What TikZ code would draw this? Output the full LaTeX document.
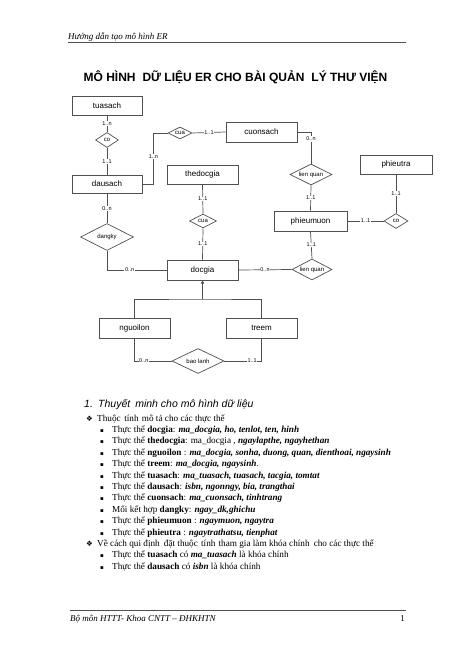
\documentclass[tikz,border=0pt]{standalone}
\usepackage{fontspec}
\setmainfont{Liberation Serif}
\newfontfamily\arial{Liberation Sans}
\newfontfamily\dejavu{DejaVu Sans}
\usetikzlibrary{shapes.geometric,arrows.meta}
\definecolor{linec}{HTML}{505050}
\newcommand{\bi}[1]{\textbf{\textit{#1}}}
\begin{document}
\begin{tikzpicture}[x=1pt,y=-1pt,
 ent/.style={draw=linec, line width=0.7pt, minimum width=71pt, minimum height=20pt, inner sep=0pt, font=\arial\fontsize{8}{9}\selectfont},
 rel/.style={diamond, aspect=2, draw=linec, line width=0.7pt, inner sep=0pt, font=\arial\fontsize{6}{7}\selectfont},
 lab/.style={fill=white, inner sep=0.6pt, font=\arial\fontsize{5.5}{6}\selectfont},
 conn/.style={draw=linec, line width=0.7pt},
 txt/.style={anchor=base west, inner sep=0pt, font=\fontsize{9.2}{10}\selectfont},
 sq/.style={anchor=base west, inner sep=0pt, font=\dejavu\fontsize{5.5}{6}\selectfont},
 dm/.style={anchor=base west, inner sep=0pt, font=\dejavu\fontsize{7.5}{8}\selectfont},
]
\useasboundingbox (0,0) rectangle (474,652);
\fill[white] (0,0) rectangle (474,652);

% header
\node[anchor=base west, inner sep=0pt, font=\itshape\fontsize{9}{10}\selectfont] (hdr) at (68,40) {Hướng dẫn tạo mô hình ER};
\coordinate (hl1) at (68,42.5);
\coordinate (hl2) at (406,42.5);
\draw[linec, line width=1pt] (hl1) -- (hl2);

% title
\node[inner sep=0pt, font=\arial\bfseries\fontsize{12}{13}\selectfont] (title) at (235.5,77) {MÔ HÌNH\hspace{0.3em} DỮ LIỆU ER CHO BÀI QUẢN\hspace{0.3em} LÝ THƯ VIỆN};

% entities
\node[ent, minimum width=70pt, minimum height=19pt] (tuasach) at (107,105.5) {tuasach};
\node[ent, minimum width=70pt, minimum height=18pt] (dausach) at (107,184) {dausach};
\node[ent] (cuonsach) at (261.5,132) {cuonsach};
\node[ent, minimum height=19pt] (thedocgia) at (202.5,174.5) {thedocgia};
\node[ent] (docgia) at (202.5,270) {docgia};
\node[ent, minimum width=73pt] (phieumuon) at (310.5,221) {phieumuon};
\node[ent, minimum width=72pt, minimum height=19pt] (phieutra) at (396,164.5) {phieutra};
\node[ent] (nguoilon) at (134.5,328) {nguoilon};
\node[ent] (treem) at (261.5,328) {treem};

% relationships
\node[rel, minimum width=23pt, minimum height=15pt] (co1) at (107,140) {co};
\node[rel, minimum width=24pt, minimum height=12pt] (cua1) at (180,133) {cua};
\node[rel, minimum width=42pt, minimum height=21pt] (lq1) at (311,174.5) {lien quan};
\node[rel, minimum width=24pt, minimum height=15pt] (co2) at (396,221) {co};
\node[rel, minimum width=27pt, minimum height=14pt] (cua2) at (203,221) {cua};
\node[rel, minimum width=53pt, minimum height=27pt] (dangky) at (107,237) {dangky};
\node[rel, minimum width=40pt, minimum height=21pt] (lq2) at (312,269.5) {lien quan};
\node[rel, minimum width=52pt, minimum height=25pt] (baolanh) at (198,361) {bao lanh};

% connectors
\draw[conn] (tuasach.south) -- node[lab]{1..n} (co1.north);
\draw[conn] (co1.south) -- node[lab]{1..1} (dausach.north);
\draw[conn] (dausach.east) -- ++(11,0) |- node[lab, pos=0.27]{1..n} (cua1.west);
\draw[conn] (cua1.east) -- node[lab]{1..1} (cuonsach.west);
\draw[conn] (cuonsach.east) -| node[lab, pos=0.61]{0..n} (lq1.north);
\draw[conn] (lq1.south) -- node[lab]{1..1} (phieumuon.north);
\draw[conn] (phieumuon.east) -- node[lab]{1..1} (co2.west);
\draw[conn] (phieutra.south) -- node[lab]{1..1} (co2.north);
\draw[conn] (thedocgia.south) -- node[lab]{1..1} (cua2.north);
\draw[conn] (cua2.south) -- node[lab]{1..1} (docgia.north);
\draw[conn] (dausach.south) -- node[lab]{0..n} (dangky.north);
\draw[conn] (dangky.south) |- node[lab, pos=0.69]{0..n} (docgia.west);
\draw[conn] (docgia.east) -- node[lab]{0..n} (lq2.west);
\draw[conn] (phieumuon.south) -- node[lab]{1..1} (lq2.north);

% inheritance
\coordinate (isa) at (202.5,299);
\draw[conn, -{Triangle[width=3.2pt,length=3.2pt]}] (isa) -- (docgia.south);
\draw[conn] (nguoilon.north) |- (isa) -| (treem.north);

\draw[conn] (nguoilon.south) |- node[lab, pos=0.625]{0..n} (baolanh.west);
\draw[conn] (baolanh.east) -| node[lab, pos=0.375]{1..1} (treem.south);

% section heading
\node[anchor=base west, inner sep=0pt, font=\arial\itshape\fontsize{10.5}{11}\selectfont] (h1) at (84,407.5) {1.\hspace{0.5em}Thuyết\hspace{0.2em} minh cho mô hình dữ liệu};

% text
\node[dm] (b1) at (86,421) {❖};
\node[txt] (t1) at (97,421) {Thuộc\hspace{0.15em} tính\hspace{0.1em} mô tả cho các thực thể};

\node[sq] (s1) at (100,432.4) {▪};
\node[txt] (t2) at (112,432.4) {Thực thể \textbf{docgia}: \bi{ma\_docgia, ho, tenlot, ten, hinh}};
\node[sq] (s2) at (100,443.8) {▪};
\node[txt] (t3) at (112,443.8) {Thực thể \textbf{thedocgia}: ma\_docgia , \bi{ngaylapthe, ngayhethan}};
\node[sq] (s3) at (100,455.2) {▪};
\node[txt] (t4) at (112,455.2) {Thực thể \textbf{nguoilon} : \bi{ma\_docgia, sonha, duong, quan, dienthoai, ngaysinh}};
\node[sq] (s4) at (100,466.6) {▪};
\node[txt] (t5) at (112,466.6) {Thực thể \textbf{treem}: \bi{ma\_docgia, ngaysinh}.};
\node[sq] (s5) at (100,478) {▪};
\node[txt] (t6) at (112,478) {Thực thể \textbf{tuasach}: \bi{ma\_tuasach, tuasach, tacgia, tomtat}};
\node[sq] (s6) at (100,489.4) {▪};
\node[txt] (t7) at (112,489.4) {Thực thể \textbf{dausach}: \bi{isbn, ngonngy, bia, trangthai}};
\node[sq] (s7) at (100,500.8) {▪};
\node[txt] (t8) at (112,500.8) {Thực thể \textbf{cuonsach}: \bi{ma\_cuonsach, tinhtrang}};
\node[sq] (s8) at (100,512.2) {▪};
\node[txt] (t9) at (112,512.2) {Mối kết hợp \textbf{dangky}: \bi{ngay\_dk,ghichu}};
\node[sq] (s9) at (100,523.6) {▪};
\node[txt] (t10) at (112,523.6) {Thực thể \textbf{phieumuon} : \bi{ngaymuon, ngaytra}};
\node[sq] (s10) at (100,535) {▪};
\node[txt] (t11) at (112,535) {Thực thể \textbf{phieutra} : \bi{ngaytrathatsu, tienphat}};

\node[dm] (b2) at (86,546.4) {❖};
\node[txt] (t12) at (97,546.4) {Về cách qui định\hspace{0.2em} đặt thuộc\hspace{0.1em} tính\hspace{0.1em} tham gia làm khóa chính\hspace{0.2em} cho các thực thể};
\node[sq] (s11) at (100,557.8) {▪};
\node[txt] (t13) at (112,557.8) {Thực thể \textbf{tuasach} có \bi{ma\_tuasach} là khóa chính};
\node[sq] (s12) at (100,569.2) {▪};
\node[txt] (t14) at (112,569.2) {Thực thể \textbf{dausach} có \bi{isbn} là khóa chính};

% footer
\coordinate (fl1) at (70,610);
\coordinate (fl2) at (406,610);
\draw[linec, line width=1pt] (fl1) -- (fl2);
\node[anchor=base west, inner sep=0pt, font=\itshape\fontsize{9}{10}\selectfont] (ftr) at (70,621) {Bộ môn HTTT- Khoa CNTT – ĐHKHTN};
\node[anchor=base east, inner sep=0pt, font=\fontsize{9}{10}\selectfont] (pg) at (405,621) {1};
\end{tikzpicture}
\end{document}
